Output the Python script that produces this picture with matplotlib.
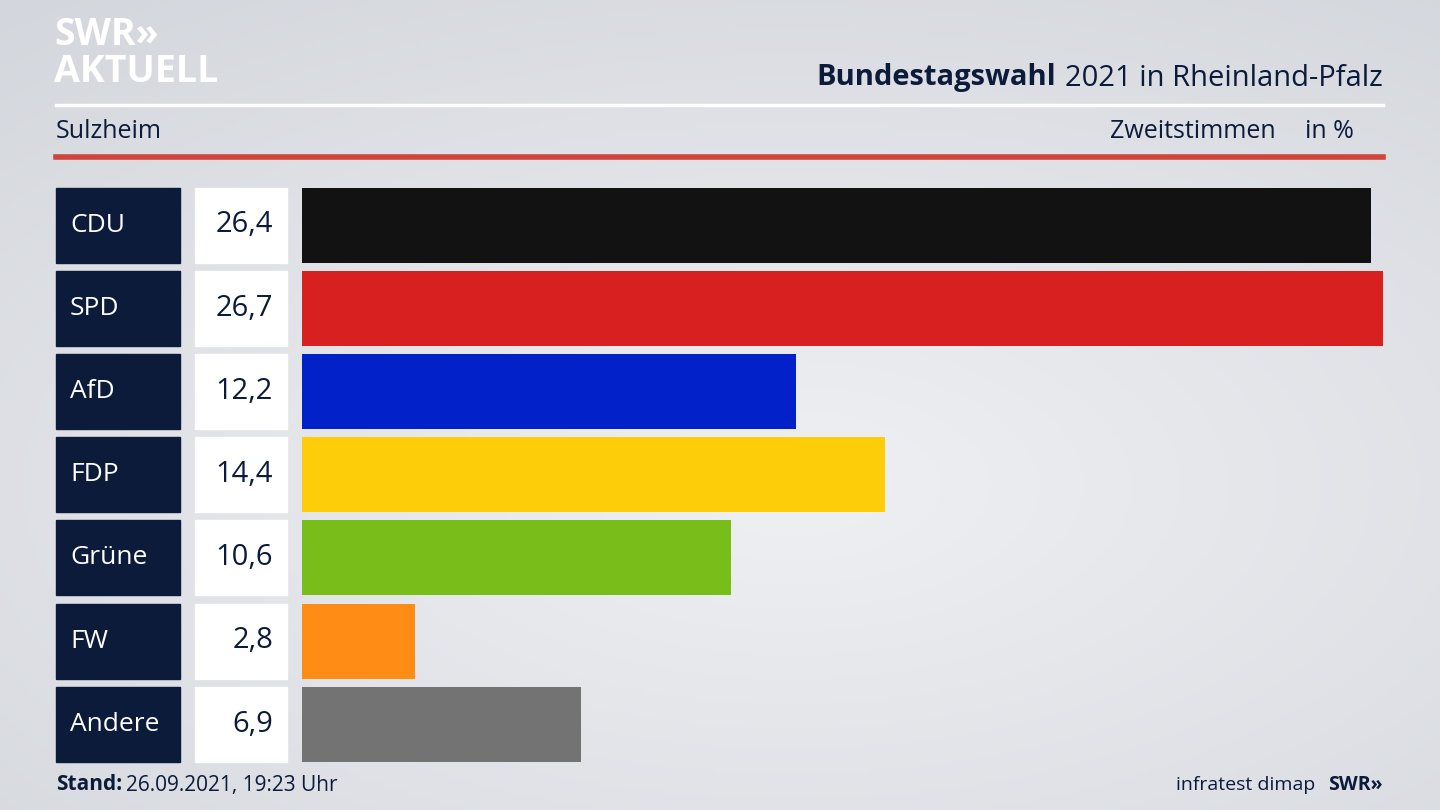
import numpy as np
import matplotlib
matplotlib.use('Agg')
import matplotlib.pyplot as plt
from matplotlib.patches import Rectangle

parties = ['CDU', 'SPD', 'AfD', 'FDP', 'Grüne', 'FW', 'Andere']
values = [26.4, 26.7, 12.2, 14.4, 10.6, 2.8, 6.9]
value_labels = ['26,4', '26,7', '12,2', '14,4', '10,6', '2,8', '6,9']
colors = ['#121212', '#d7201f', '#0321c8', '#fecd0a', '#79bd1b', '#fe8c15', '#737373']

NAVY = '#0c1b3a'
FONT = 'Open Sans'

fig = plt.figure(figsize=(14.4, 8.1), dpi=100)

# background gradient
bg = fig.add_axes([0, 0, 1, 1])
yy, xx = np.mgrid[0:1:200j, 0:1:360j]
r = np.sqrt(((xx - 0.55) / 0.9) ** 2 + ((yy - 0.6) / 0.8) ** 2)
bg.imshow(np.clip(r, 0, 1), cmap=matplotlib.colors.LinearSegmentedColormap.from_list(
    'g', ['#eff0f3', '#d3d6dc']), extent=[0, 1440, 810, 0], aspect='auto')
bg.set_xlim(0, 1440)
bg.set_ylim(810, 0)
bg.axis('off')

# header
bg.text(54, 54, 'SWR»', fontsize=27, fontweight='bold', color='white', family=FONT, va='bottom')
bg.text(54, 91, 'AKTUELL', fontsize=27, fontweight='bold', color='white', family=FONT, va='bottom')
reg = bg.text(1383, 78, '2021 in Rheinland-Pfalz', fontsize=21, color=NAVY, family=FONT,
              ha='right', va='center')
fig.canvas.draw()
bb = reg.get_window_extent()
left_px = bb.x0 - 9  # axes spans the whole figure, so pixels == data x
bg.text(left_px, 78, 'Bundestagswahl', fontsize=21, fontweight='bold', color=NAVY,
        family=FONT, ha='right', va='center')
bg.plot([56, 1383], [105, 105], color='white', lw=2.5)
bg.text(56, 132, 'Sulzheim', fontsize=18, color=NAVY, family=FONT, va='center')
bg.text(1276, 132, 'Zweitstimmen', fontsize=18, color=NAVY, family=FONT, va='center', ha='right')
bg.text(1354, 132, 'in %', fontsize=18, color=NAVY, family=FONT, va='center', ha='right')
bg.plot([56, 1383], [157, 157], color='#d0443a', lw=4)

# footer
bg.text(56, 785, 'Stand:', fontsize=15, fontweight='bold', color=NAVY, family=FONT, va='center')
bg.text(126, 785, '26.09.2021, 19:23 Uhr', fontsize=15, color=NAVY, family=FONT, va='center')
bg.text(1315, 785, 'infratest dimap', fontsize=14, color=NAVY, family=FONT, va='center', ha='right')
bg.text(1383, 785, 'SWR»', fontsize=14, fontweight='bold', color=NAVY, family=FONT, va='center', ha='right')

# rows
y0, step, h = 225, 83.2, 75
for i, (p, lab) in enumerate(zip(parties, value_labels)):
    yc = y0 + i * step
    bg.add_patch(Rectangle((56, yc - h / 2), 124, h, color=NAVY))
    bg.add_patch(Rectangle((195, yc - h / 2), 92, h, color='white'))
    bg.text(70, yc, p, fontsize=19, color='white', family=FONT, va='center')
    bg.text(273, yc, lab, fontsize=21, color=NAVY, family=FONT, va='center', ha='right')

# bars
ax = fig.add_axes([302 / 1440, 0, (1383 - 302) / 1440, 1])
ax.set_xlim(0, max(values))
ax.set_ylim(810, 0)
ys = [y0 + i * step for i in range(len(values))]
ax.barh(ys, values, height=h, color=colors, left=0)
ax.axis('off')

fig.savefig('out.png', dpi=100)
